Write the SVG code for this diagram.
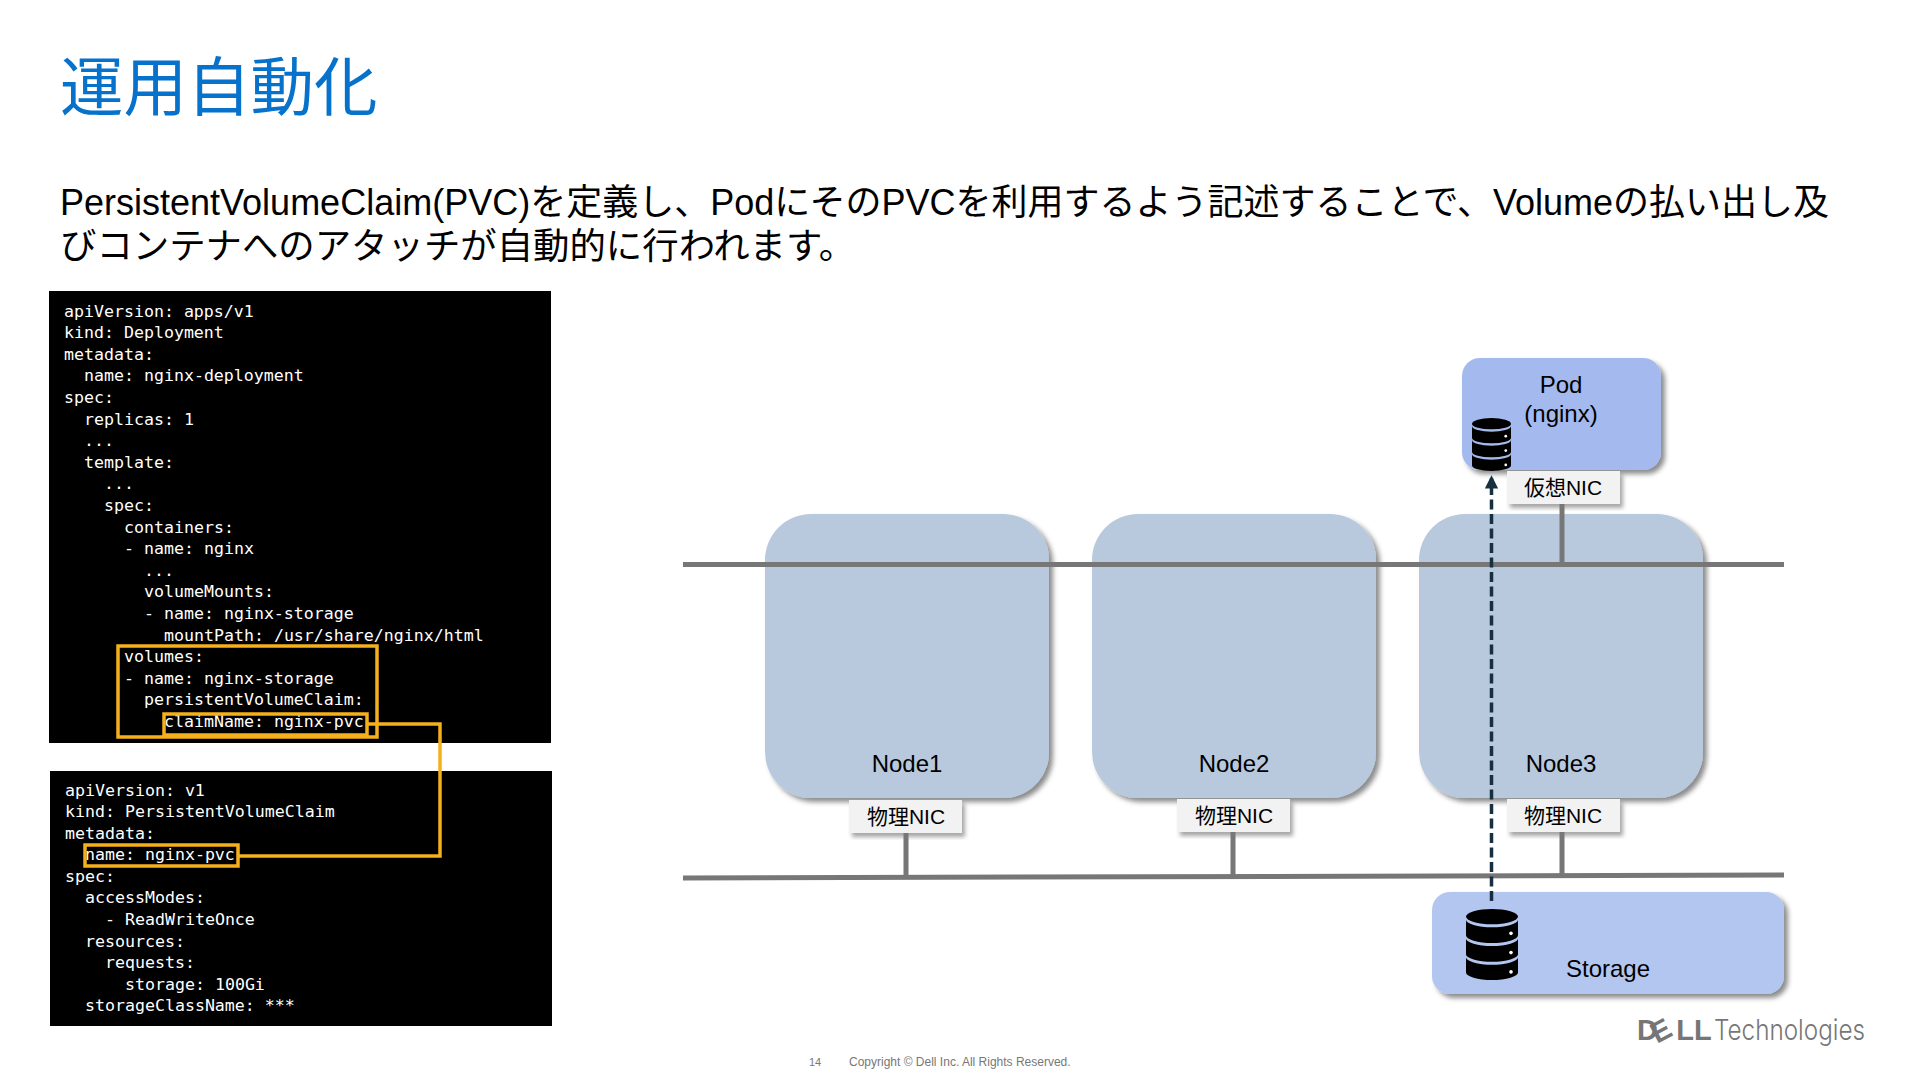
<svg xmlns="http://www.w3.org/2000/svg" width="1920" height="1080" viewBox="0 0 1920 1080">
<style>
text{font-family:"Liberation Sans","Noto Sans CJK JP",sans-serif;fill:#000}
.code text,text.code{font-family:"DejaVu Sans Mono","Liberation Mono",monospace;font-size:16.6px;fill:#fff}
.lbl{font-size:24px;text-anchor:middle}
.nic{font-size:21px;text-anchor:middle}
.node{fill:#b8c9dd;filter:url(#sh)}
.nicbox{fill:#f2f2f2;filter:url(#sh2)}
.bus{stroke:#777;stroke-width:5;fill:none}
.hl{fill:none;stroke:#f5b11c;stroke-width:3.5}
</style>
<defs>
<filter id="sh" x="-10%" y="-10%" width="120%" height="120%"><feDropShadow dx="4" dy="4" stdDeviation="2.5" flood-color="#000" flood-opacity=".45"/></filter>
<filter id="sh2" x="-10%" y="-20%" width="120%" height="140%"><feDropShadow dx="3" dy="4" stdDeviation="2" flood-color="#000" flood-opacity=".35"/></filter>
<marker id="ah" markerWidth="3.800" markerHeight="3.800" refX="3" refY="1.900" orient="auto"><path d="M0 0L3.800 1.900L0 3.800Z" fill="#17303f"/></marker>
<symbol id="db" viewBox="0 0 52 70" preserveAspectRatio="none">
<ellipse cx="26" cy="7.500" rx="26" ry="7.500"/>
<path d="M0 10.500A26 7.500 0 0 0 52 10.500V26A26 7.500 0 0 1 0 26Z"/>
<path d="M0 29A26 7.500 0 0 0 52 29V44.500A26 7.500 0 0 1 0 44.500Z"/>
<path d="M0 47.500A26 7.500 0 0 0 52 47.500V62.500A26 7.500 0 0 1 0 62.500Z"/>
<g fill="#fff"><circle cx="45" cy="24" r="1.800"/><circle cx="45" cy="43" r="1.800"/><circle cx="45" cy="62" r="1.800"/></g>
</symbol>
</defs>
<rect width="1920" height="1080" fill="#fff"/>
<text id="title" x="60" y="110" font-size="63.500" style="fill:#0672cb">運用自動化</text>
<g id="body">
<text x="60" y="215" font-size="36">PersistentVolumeClaim(PVC)を定義し、PodにそのPVCを利用するよう記述することで、Volumeの払い出し及</text>
<text x="60" y="259" font-size="36.400">びコンテナへのアタッチが自動的に行われます。</text>
</g>
<g id="code-deployment" class="code">
<rect x="49" y="291" width="502" height="452" fill="#000"/>
<text x="64" y="316.500">apiVersion: apps/v1</text>
<text x="64" y="338.100">kind: Deployment</text>
<text x="64" y="359.700">metadata:</text>
<text x="84" y="381.300">name: nginx-deployment</text>
<text x="64" y="402.900">spec:</text>
<text x="84" y="424.500">replicas: 1</text>
<text x="84" y="446.100">...</text>
<text x="84" y="467.700">template:</text>
<text x="104" y="489.300">...</text>
<text x="104" y="510.900">spec:</text>
<text x="124" y="532.500">containers:</text>
<text x="124" y="554.100">- name: nginx</text>
<text x="144" y="575.700">...</text>
<text x="144" y="597.300">volumeMounts:</text>
<text x="144" y="618.900">- name: nginx-storage</text>
<text x="164" y="640.500">mountPath: /usr/share/nginx/html</text>
<text x="124" y="662.100">volumes:</text>
<text x="124" y="683.700">- name: nginx-storage</text>
<text x="144" y="705.300">persistentVolumeClaim:</text>
<text x="164" y="726.900">claimName: nginx-pvc</text>
</g>
<g id="code-pvc" class="code">
<rect x="50" y="771" width="502" height="255" fill="#000"/>
<text x="65" y="795.500">apiVersion: v1</text>
<text x="65" y="817">kind: PersistentVolumeClaim</text>
<text x="65" y="838.600">metadata:</text>
<text x="85" y="860.200">name: nginx-pvc</text>
<text x="65" y="881.800">spec:</text>
<text x="85" y="903.400">accessModes:</text>
<text x="105" y="925">- ReadWriteOnce</text>
<text x="85" y="946.600">resources:</text>
<text x="105" y="968.200">requests:</text>
<text x="125" y="989.800">storage: 100Gi</text>
<text x="85" y="1011.400">storageClassName: ***</text>
</g>
<g id="highlights">
<rect class="hl" x="118" y="646" width="259" height="91"/>
<rect class="hl" x="164" y="714" width="203" height="21"/>
<rect class="hl" x="85" y="845" width="153" height="21"/>
<path class="hl" d="M367 724H440V856H238"/>
</g>
<g id="node1"><rect class="node" x="765" y="514" width="284" height="284" rx="46"/><text class="lbl" x="907" y="772">Node1</text></g>
<g id="node2"><rect class="node" x="1092" y="514" width="284" height="284" rx="46"/><text class="lbl" x="1234" y="772">Node2</text></g>
<g id="node3"><rect class="node" x="1419" y="514" width="284" height="284" rx="46"/><text class="lbl" x="1561" y="772">Node3</text></g>
<g id="nic1"><rect class="nicbox" x="849" y="800" width="113" height="33"/><text class="nic" x="906" y="824">物理NIC</text></g>
<g id="nic2"><rect class="nicbox" x="1177" y="799" width="113" height="33"/><text class="nic" x="1234" y="823">物理NIC</text></g>
<g id="nic3"><rect class="nicbox" x="1507" y="799" width="113" height="33"/><text class="nic" x="1563" y="823">物理NIC</text></g>
<g id="pod"><rect class="node" style="fill:#a4b9ee" x="1462" y="358" width="199" height="112" rx="18"/><text class="lbl" x="1561" y="393">Pod</text><text class="lbl" x="1561" y="422">(nginx)</text><use href="#db" x="1472" y="418" width="39" height="53"/></g>
<g id="nic-virtual"><rect class="nicbox" x="1507" y="471" width="113" height="33"/><text class="nic" x="1563" y="495">仮想NIC</text></g>
<g id="storage"><rect class="node" style="fill:#b3c6f0" x="1432" y="892" width="352" height="102" rx="18"/><use href="#db" x="1466" y="909" width="52" height="71"/><text class="lbl" x="1608" y="977">Storage</text></g>
<g id="connectors">
<path class="bus" d="M683 564.500H1784"/>
<path class="bus" d="M683 878L1784 875"/>
<path class="bus" d="M1562 504V564M906 833V877M1233 832V876M1562 832V875"/>
<path d="M1491.500 901V478" fill="none" stroke="#17303f" stroke-width="3.500" stroke-dasharray="10 4.500" marker-end="url(#ah)"/>
</g>
<g id="footer">
<text x="809" y="1066" font-size="11" style="fill:#777">14</text>
<text x="849" y="1066" font-size="12" style="fill:#777">Copyright © Dell Inc. All Rights Reserved.</text>
</g>
<g id="logo">
<text x="1637" y="1040" font-size="29" font-weight="700" style="fill:#767676">D<tspan dx="-1" dy="4" rotate="-28">E</tspan><tspan dy="-4">LL</tspan></text>
<text x="1714" y="1040" font-size="29" font-weight="300" textLength="151" lengthAdjust="spacingAndGlyphs" style="font-family:Inter,sans-serif;fill:#767676">Technologies</text>
</g>
</svg>
